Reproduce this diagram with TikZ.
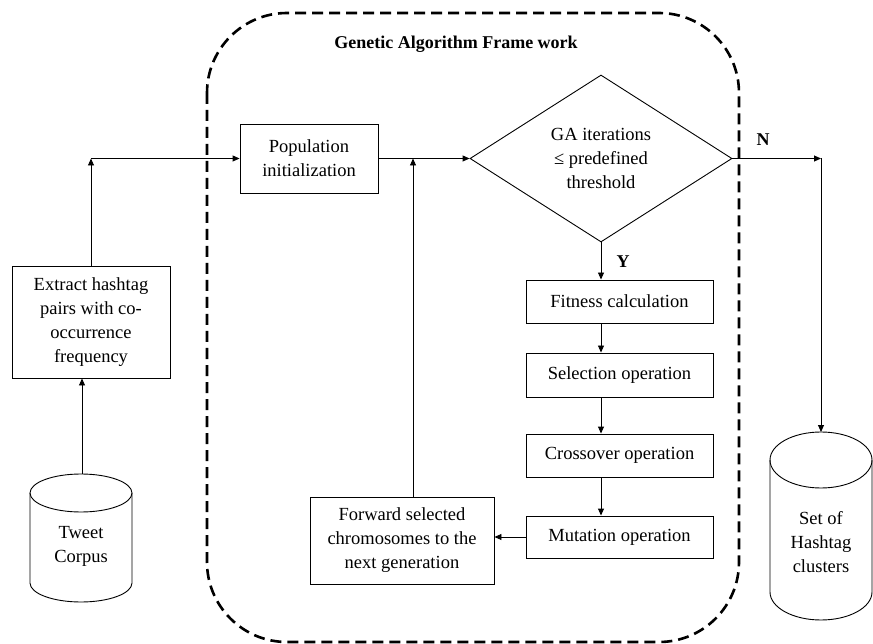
\documentclass[tikz,border=0pt]{standalone}
\usepackage{fontspec}
\setmainfont{Liberation Serif}
\usetikzlibrary{shapes.geometric,arrows.meta}
\begin{document}
\begin{tikzpicture}[x=1pt,y=-1pt,
  font=\fontsize{18.5}{24}\selectfont,
  box/.style={draw, line width=0.9pt, align=center, inner sep=0pt},
  conn/.style={line width=0.9pt, -{Triangle[length=7pt,width=6pt]}},
  frame/.style={line width=2.6pt, dash pattern=on 11pt off 6pt, rounded corners=80pt},
  lbl/.style={font=\fontsize{18}{20}\selectfont\bfseries}]
\useasboundingbox (0,0) rectangle (873,644);

% frame
\draw[frame] (207,13) rectangle (739,642);
\node[lbl] (title) at (456,44) {Genetic Algorithm Frame work};

% nodes
\node[box, minimum width=138pt, minimum height=69pt] (pop) at (309,158.5) {Population\\initialization};
\node[box, minimum width=158pt, minimum height=112pt] (extract) at (91,322) {Extract hashtag\\pairs with co-\\occurrence\\frequency};
\node[draw, diamond, line width=0.9pt, minimum width=262pt, minimum height=167pt, inner sep=0pt, align=center] (dec) at (601,158.5) {GA iterations\\≤ predefined\\threshold};
\node[box, minimum width=187pt, minimum height=43pt] (fit) at (619.5,301.5) {Fitness calculation};
\node[box, minimum width=187pt, minimum height=44pt] (sel) at (619.5,375) {Selection operation};
\node[box, minimum width=187pt, minimum height=43pt] (cross) at (619.5,455.5) {Crossover operation};
\node[box, minimum width=187pt, minimum height=42pt] (mut) at (619.5,537) {Mutation operation};
\node[box, minimum width=184pt, minimum height=87pt] (fwd) at (402,540.5) {Forward selected\\chromosomes to the\\next generation};

% cylinders
\draw[line width=0.9pt] (81,493) ellipse [x radius=51pt, y radius=19pt];
\draw[line width=0.9pt] (30,493) -- (30,583) arc (180:360:51pt and 19pt) -- (132,493);
\node[align=center] (tweet) at (81,546) {Tweet\\Corpus};
\coordinate (tweettop) at (82,474);

\draw[line width=0.9pt] (821,460) ellipse [x radius=51pt, y radius=28pt];
\draw[line width=0.9pt] (770,460) -- (770,592) arc (180:360:51pt and 28pt) -- (872,460);
\node[align=center] (sethc) at (821,542) {Set of\\Hashtag\\clusters};
\coordinate (settop) at (821,432);

% junctions
\coordinate (j1) at (91,158.5);
\coordinate (j2) at (413,158.5);
\coordinate (j3) at (821,158.5);

% connectors
\draw[conn] (tweettop) -- (tweettop |- extract.south);
\draw[conn] (extract.north) -- (j1);
\draw[conn] (j1) -- (pop.west);
\draw[conn] (pop.east) -- (dec.west);
\draw[conn] (fwd.north -| j2) -- (j2);
\draw[conn] (dec.south) -- (dec.south |- fit.north);
\draw[conn] (fit.south -| dec.south) -- (sel.north -| dec.south);
\draw[conn] (sel.south -| dec.south) -- (cross.north -| dec.south);
\draw[conn] (cross.south -| dec.south) -- (mut.north -| dec.south);
\draw[conn] (mut.west) -- (mut.west -| fwd.east);
\draw[conn] (dec.east) -- (j3);
\draw[conn] (j3) -- (settop);

\node[lbl] (ylab) at (623,262) {Y};
\node[lbl] (nlab) at (763,140) {N};
\end{tikzpicture}
\end{document}
